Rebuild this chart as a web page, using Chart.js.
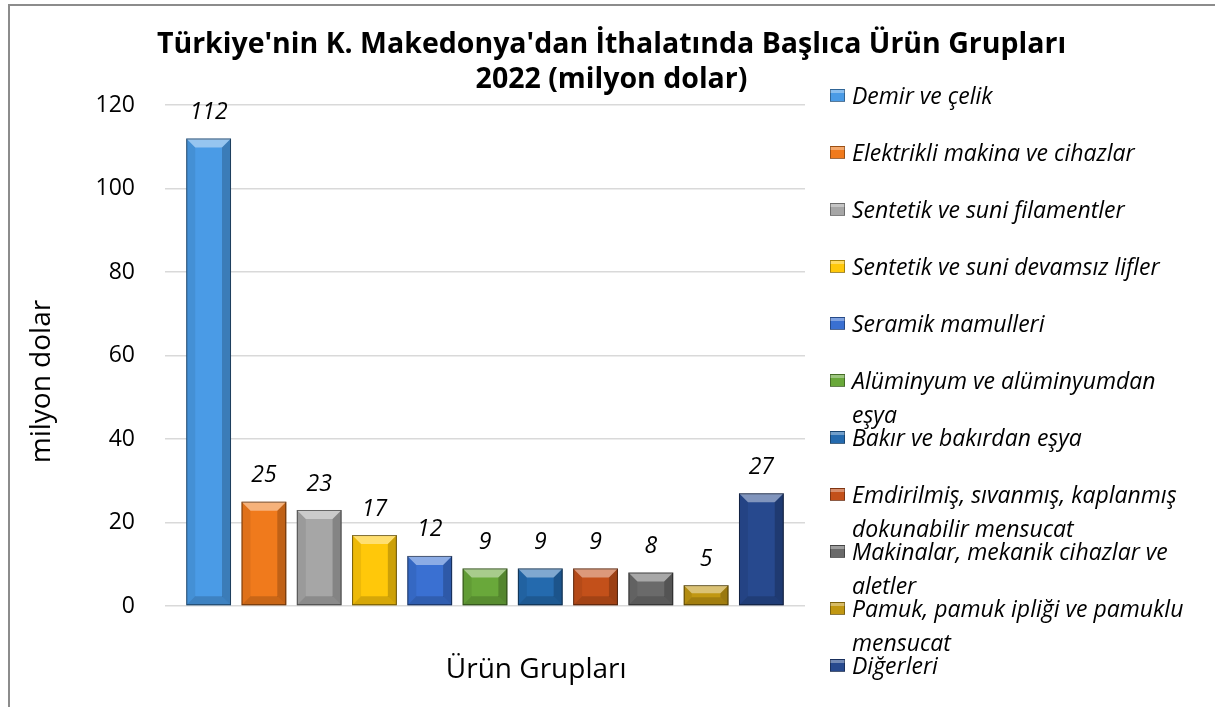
<!DOCTYPE html>
<html lang="tr">
<head>
<meta charset="utf-8">
<script src="https://cdn.jsdelivr.net/npm/chart.js@4.4.1/dist/chart.umd.min.js"></script>
<style>
  html, body { margin: 0; padding: 0; background: #fff; }
  #wrap { position: relative; width: 1215px; height: 707px; overflow: hidden; }
  #frame {
    position: absolute; left: 8px; top: 4px; right: -10px; bottom: -10px;
    border-left: 2px solid #8c8c8c; border-top: 2px solid #8c8c8c;
    pointer-events: none;
  }
  #legend {
    position: absolute; left: 830px; top: 78px; width: 385px;
    font-family: 'Open Sans', sans-serif; font-style: italic; font-size: 23px; color: #000;
  }
  .item { position: relative; height: 57px; }
  .sw {
    position: absolute; left: 0; top: 11px; width: 15px; height: 13px;
    box-sizing: border-box; border: 1px solid rgba(0,0,0,0.35);
  }
  .txt { position: absolute; left: 22px; top: 0; width: 345px; line-height: 34px; white-space: normal; }
</style>
</head>
<body>
<div id="wrap">
  <canvas id="chart" width="1215" height="707"></canvas>
  <div id="legend"></div>
  <div id="frame"></div>
</div>
<script>
const titleLines = ["Türkiye'nin K. Makedonya'dan İthalatında Başlıca Ürün Grupları", '2022 (milyon dolar)'];
const xTitle = 'Ürün Grupları';
const yTitle = 'milyon dolar';

const categories = [
  'Demir ve çelik',
  'Elektrikli makina ve cihazlar',
  'Sentetik ve suni filamentler',
  'Sentetik ve suni devamsız lifler',
  'Seramik mamulleri',
  'Alüminyum ve alüminyumdan eşya',
  'Bakır ve bakırdan eşya',
  'Emdirilmiş, sıvanmış, kaplanmış dokunabilir mensucat',
  'Makinalar, mekanik cihazlar ve aletler',
  'Pamuk, pamuk ipliği ve pamuklu mensucat',
  'Diğerleri'
];
const values = [112, 25, 23, 17, 12, 9, 9, 9, 8, 5, 27];
const barColors = [
  '#4a9be6', '#f07a1c', '#a6a6a6', '#ffc80a', '#3a70d2', '#69a83a',
  '#246aae', '#c3501a', '#6a6a6a', '#c19712', '#27498e'
];
const yTicks = [0, 20, 40, 60, 80, 100, 120];

// bevelled look on each bar, like the office 3d preset
const bevel = {
  id: 'bevel',
  afterDatasetsDraw(chart) {
    const ctx = chart.ctx;
    ctx.save();
    chart.data.datasets.forEach((ds, i) => {
      chart.getDatasetMeta(i).data.forEach(bar => {
        const l = bar.x - bar.width / 2, r = bar.x + bar.width / 2;
        const t = Math.min(bar.y, bar.base), b = Math.max(bar.y, bar.base);
        const s = Math.min(9, (b - t) / 2.5);
        const poly = (pts, fill) => {
          ctx.beginPath();
          ctx.moveTo(pts[0][0], pts[0][1]);
          pts.slice(1).forEach(p => ctx.lineTo(p[0], p[1]));
          ctx.closePath();
          ctx.fillStyle = fill;
          ctx.fill();
        };
        poly([[l, t], [r, t], [r - s, t + s], [l + s, t + s]], 'rgba(255,255,255,0.42)');
        poly([[l, b], [r, b], [r - s, b - s], [l + s, b - s]], 'rgba(0,0,0,0.16)');
        poly([[l, t], [l + s, t + s], [l + s, b - s], [l, b]], 'rgba(0,0,0,0.07)');
        poly([[r, t], [r - s, t + s], [r - s, b - s], [r, b]], 'rgba(0,0,0,0.2)');
        ctx.strokeStyle = 'rgba(0,0,0,0.5)';
        ctx.lineWidth = 1;
        ctx.strokeRect(l + 0.5, t + 0.5, r - l - 1, b - t - 1);
      });
    });
    ctx.restore();
  }
};

const valueLabels = {
  id: 'valueLabels',
  afterDatasetsDraw(chart) {
    const ctx = chart.ctx;
    ctx.save();
    ctx.font = 'italic 23px "Open Sans"';
    ctx.fillStyle = '#000';
    ctx.textAlign = 'center';
    ctx.textBaseline = 'middle';
    chart.data.datasets.forEach((ds, i) => {
      chart.getDatasetMeta(i).data.forEach((bar, j) => {
        ctx.fillText(String(ds.data[j]), bar.x, bar.y - 26);
      });
    });
    ctx.restore();
  }
};

// axis titles sit off-centre in the original, so they are placed by hand
const axisTitles = {
  id: 'axisTitles',
  afterDraw(chart) {
    const { ctx, chartArea: a } = chart;
    ctx.save();
    ctx.font = '28px "Open Sans"';
    ctx.fillStyle = '#000';
    ctx.textAlign = 'center';
    ctx.textBaseline = 'middle';
    ctx.fillText(xTitle, a.left + (a.right - a.left) * 0.58, a.bottom + 64);
    ctx.translate(42, (a.top + a.bottom) / 2 + 26);
    ctx.rotate(-Math.PI / 2);
    ctx.fillText(yTitle, 0, 0);
    ctx.restore();
  }
};

new Chart(document.getElementById('chart'), {
  type: 'bar',
  data: {
    labels: [''],
    datasets: categories.map((c, i) => ({
      label: c,
      data: [values[i]],
      backgroundColor: barColors[i],
      borderWidth: 0
    }))
  },
  options: {
    responsive: false,
    animation: false,
    layout: { padding: { left: 8, right: 0, top: 0, bottom: 0 } },
    datasets: { bar: { categoryPercentage: 0.95, barPercentage: 0.81 } },
    plugins: {
      legend: { display: false },
      tooltip: { enabled: false },
      title: {
        display: true,
        text: titleLines,
        color: '#000',
        font: { family: 'Open Sans', size: 28.5, weight: 'bold', lineHeight: 1.23 },
        padding: { top: 27, bottom: 8 }
      }
    },
    scales: {
      x: {
        grid: { display: false },
        border: { display: false },
        ticks: { display: false },
        afterFit(s) { s.height = 101; }
      },
      y: {
        min: yTicks[0],
        max: yTicks[yTicks.length - 1],
        afterBuildTicks(s) { s.ticks = yTicks.map(v => ({ value: v })); },
        ticks: { padding: 30, color: '#000', font: { family: 'Open Sans', size: 23 } },
        grid: { color: '#d9d9d9', lineWidth: 1.5, drawTicks: false },
        border: { display: false },
        afterFit(s) { s.width = 157; }
      },
      legendSpace: {
        position: 'right',
        grid: { display: false },
        border: { display: false },
        ticks: { display: false },
        afterFit(s) { s.width = 410; }
      }
    }
  },
  plugins: [bevel, valueLabels, axisTitles]
});

// legend on the right, text wraps like the original
const legend = document.getElementById('legend');
categories.forEach((c, i) => {
  const item = document.createElement('div');
  item.className = 'item';
  const sw = document.createElement('div');
  sw.className = 'sw';
  sw.style.background = 'linear-gradient(180deg, rgba(255,255,255,0.35) 0 30%, rgba(0,0,0,0) 30%), ' + barColors[i];
  const txt = document.createElement('div');
  txt.className = 'txt';
  txt.textContent = c;
  item.appendChild(sw);
  item.appendChild(txt);
  legend.appendChild(item);
});
</script>
</body>
</html>
